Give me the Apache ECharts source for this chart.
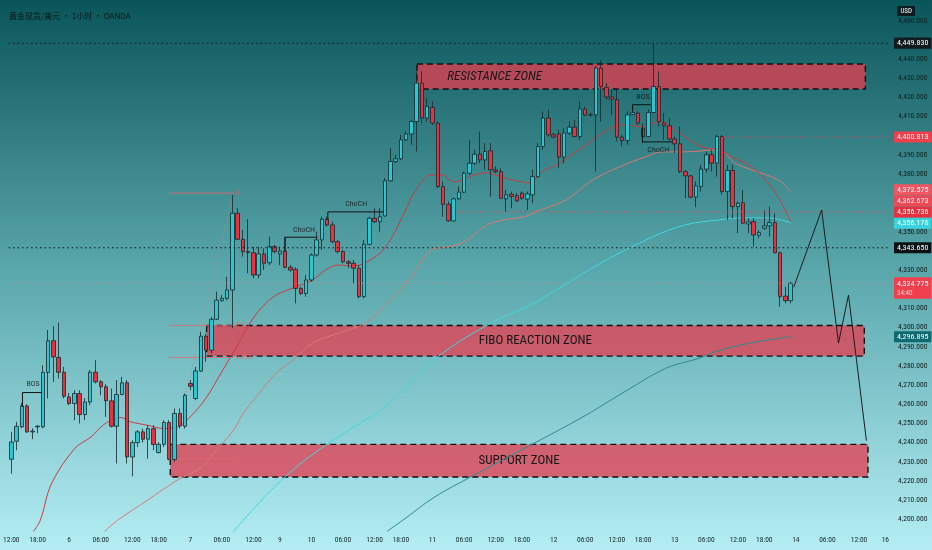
<!DOCTYPE html>
<html><head><meta charset="utf-8">
<script src="https://cdn.jsdelivr.net/npm/echarts@6/dist/echarts.min.js"></script>
<style>html,body{margin:0;padding:0;background:#5aa8ad}#c{width:932px;height:550px}</style>
</head><body><div id="c"></div>
<script>
// ---------- data ----------
const slotCount = 167;
const tickIdx  = [0,5,11,17,23,28,34,40,46,51,57,63,69,74,80,86,92,97,103,109,115,120,126,132,138,143,149,155,161,166];
const tickText = ['12:00','18:00','6','06:00','12:00','18:00','7','06:00','12:00','9','10','06:00','12:00','18:00','11','06:00','12:00','18:00','12','06:00','12:00','18:00','13','06:00','12:00','18:00','14','06:00','12:00','16'];

const opens = [4231.3,4240.7,4248.2,4259.1,4245.6,4248.2,4248.2,4276.6,4293.1,4284.4,4276.7,4263.8,4260.4,4265.6,4254.6,4261.2,4276.7,4271.7,4269.1,4261.8,
4248.5,4265.1,4271.2,4232.5,4240.0,4245.6,4241.8,4247.3,4234.8,4239.1,4250.5,4231.2,4255.2,4248.5,4270.8,4263.0,4277.3,4295.5,4288.2,4304.3,
4314.0,4315.2,4319.6,4359.6,4346.0,4339.6,4339.0,4327.4,4338.4,4333.8,4342.2,4338.4,4339.9,4331.4,4330.4,4320.4,4317.8,4324.8,4337.8,4345.7,
4356.5,4353.5,4344.8,4339.6,4334.3,4333.5,4330.9,4316.1,4343.4,4357.0,4355.2,4358.2,4376.5,4386.6,4388.0,4397.9,4400.9,4407.4,4427.5,4409.2,
4414.8,4406.6,4373.5,4364.3,4355.6,4367.1,4370.6,4380.5,4385.7,4390.4,4387.4,4392.2,4382.2,4381.3,4367.1,4369.5,4368.8,4370.1,4367.0,4369.2,
4378.7,4394.4,4409.2,4400.5,4401.0,4388.9,4401.4,4404.5,4399.6,4413.9,4410.8,4410.9,4435.3,4425.2,4420.2,4418.8,4399.3,4397.5,4411.1,4411.8,
4404.0,4399.6,4412.1,4425.7,4406.6,4405.2,4398.3,4395.8,4381.3,4379.1,4368.0,4373.5,4382.6,4390.1,4385.7,4399.6,4370.9,4381.9,4363.1,4365.1,
4354.0,4355.2,4348.1,4351.8,4353.0,4354.7,4339.0,4316.4,4314.0];
const closes = [4240.3,4248.5,4259.1,4245.6,4246.0,4248.6,4276.6,4293.1,4284.7,4276.7,4264.2,4260.4,4265.6,4254.6,4261.2,4276.7,4271.7,4269.1,4261.8,4248.5,
4265.1,4271.2,4232.5,4240.0,4245.6,4241.8,4247.3,4239.0,4239.1,4250.5,4231.3,4255.2,4248.7,4264.7,4269.4,4277.4,4295.5,4288.2,4304.3,4314.3,
4315.2,4319.6,4359.6,4346.0,4339.6,4339.1,4327.4,4338.4,4333.5,4342.2,4339.6,4339.9,4331.4,4330.0,4320.4,4317.8,4324.8,4337.8,4345.7,4356.5,
4353.5,4344.8,4339.6,4334.3,4333.5,4330.9,4316.1,4343.4,4357.0,4355.2,4357.8,4376.5,4386.6,4388.0,4397.9,4400.9,4407.4,4427.5,4409.2,4415.3,
4406.6,4373.5,4364.3,4355.6,4367.1,4370.6,4380.5,4385.7,4390.4,4387.4,4391.8,4382.2,4381.3,4367.4,4369.2,4368.3,4366.0,4367.4,4369.7,4378.7,
4394.4,4409.2,4400.5,4399.3,4388.9,4401.4,4404.5,4399.6,4413.9,4410.8,4411.0,4435.3,4425.7,4420.2,4419.1,4399.3,4397.5,4410.9,4412.1,4406.6,
4399.6,4412.1,4425.7,4407.4,4405.2,4398.3,4395.8,4381.3,4379.1,4368.0,4373.9,4382.6,4390.1,4385.7,4399.6,4370.9,4381.9,4363.1,4364.8,4354.4,
4355.1,4348.3,4349.5,4353.0,4354.7,4339.0,4316.1,4314.0,4323.1];
const lows = [4223.8,4236.0,4247.5,4245.0,4241.8,4244.9,4247.5,4263.0,4271.7,4273.4,4263.0,4259.5,4251.7,4250.0,4251.7,4259.5,4270.8,4264.7,4253.4,4247.9,
4229.1,4264.7,4229.1,4222.4,4237.7,4240.0,4231.7,4236.0,4234.3,4237.7,4230.8,4229.9,4247.3,4247.3,4267.3,4262.1,4276.9,4282.1,4286.5,4303.9,
4313.5,4314.3,4299.6,4345.7,4337.0,4328.3,4325.7,4325.7,4330.0,4332.6,4338.7,4332.6,4330.9,4329.1,4312.6,4316.9,4316.1,4323.9,4337.0,4340.5,
4352.6,4343.9,4338.7,4333.5,4330.9,4323.1,4315.2,4315.2,4343.0,4354.4,4350.0,4357.8,4376.1,4385.7,4387.4,4397.4,4395.3,4391.8,4406.6,4407.4,
4405.7,4372.7,4357.8,4355.2,4355.2,4366.6,4370.1,4379.6,4384.8,4385.7,4382.2,4368.3,4380.5,4367.1,4360.4,4362.2,4365.7,4366.6,4361.3,4364.8,
4378.0,4392.7,4399.6,4398.6,4383.1,4385.7,4400.5,4399.3,4397.9,4410.4,4410.0,4381.3,4407.4,4418.8,4410.9,4397.0,4394.4,4395.3,4410.8,4405.7,
4396.2,4399.3,4411.8,4404.8,4397.9,4397.5,4391.0,4380.5,4367.4,4367.4,4362.7,4370.9,4380.8,4381.3,4378.7,4369.2,4356.1,4357.0,4349.2,4354.0,
4349.2,4342.2,4346.6,4350.9,4347.4,4338.7,4310.8,4312.6,4312.6];
const highs = [4245.6,4250.8,4260.6,4260.0,4247.5,4249.1,4280.4,4298.7,4300.8,4302.5,4279.5,4265.9,4267.3,4267.3,4263.2,4277.8,4283.0,4272.6,4270.5,4268.2,
4272.6,4274.3,4272.6,4241.2,4246.5,4247.3,4249.1,4249.1,4240.3,4251.7,4251.7,4257.8,4257.8,4265.6,4272.6,4279.5,4297.8,4296.9,4305.6,4318.7,
4317.0,4326.5,4369.2,4362.2,4350.9,4356.5,4342.2,4342.2,4341.3,4347.4,4343.1,4342.2,4347.4,4332.6,4331.4,4321.3,4327.4,4338.7,4350.0,4357.8,
4357.8,4355.2,4345.7,4340.5,4335.2,4335.2,4332.6,4345.7,4357.8,4362.2,4362.2,4377.9,4393.6,4390.1,4400.5,4402.2,4408.3,4433.6,4433.6,4419.7,
4417.9,4407.4,4376.1,4365.7,4367.8,4373.5,4381.3,4397.9,4392.7,4402.2,4396.2,4396.2,4384.0,4383.1,4371.8,4370.9,4370.1,4370.9,4370.9,4382.2,
4396.2,4412.7,4413.6,4401.4,4403.1,4404.0,4407.4,4408.3,4417.9,4415.3,4412.0,4436.5,4439.3,4427.5,4424.0,4424.0,4400.5,4412.7,4415.3,4412.7,
4406.6,4413.6,4448.2,4433.6,4411.8,4409.2,4399.6,4404.8,4382.2,4379.6,4376.1,4384.8,4391.8,4392.7,4400.5,4400.5,4384.8,4384.8,4365.7,4371.8,
4357.0,4357.0,4350.9,4361.3,4363.1,4359.6,4339.6,4321.3,4323.9];

// moving averages read as [slot, price]
const ema20 = [[4.2,4193.7],[5.52,4199.5],[7.64,4218.6],[12.04,4236.9],[15.17,4243.0],[17.69,4249.6],[20.81,4253.1],[22.69,4250.8],[25.83,4249.1],[28.97,4247.3],
[31.85,4248.5],[34.29,4254.3],[37.11,4263.7],[39.93,4276.7],[42.19,4287.2],[45.95,4304.9],[49.72,4315.9],[53.48,4320.6],[57.24,4324.8],[59.68,4330.0],
[62.13,4332.6],[64.76,4332.1],[67.21,4333.7],[70.97,4341.5],[74.73,4360.3],[76.61,4370.7],[79.81,4379.6],[81.69,4379.6],[84.13,4376.0],[87.89,4379.6],
[90.34,4380.7],[92.97,4378.6],[96.74,4376.0],[98.61,4375.4],[100.5,4380.7],[104.26,4385.9],[110.46,4397.9],[114.22,4404.7],[116.1,4405.7],[119.87,4404.7],
[123.07,4407.3],[124.19,4406.8],[126.83,4401.5],[131.15,4394.2],[134.35,4392.7],[136.8,4389.0],[140.56,4383.8],[143.76,4375.4],[145.64,4368.1],[148.08,4355.1]];
const ema50 = [[17.74,4193.7],[20.19,4199.5],[25.83,4209.9],[31.47,4220.3],[35.8,4226.6],[38.99,4236.0],[42.19,4246.5],[44.07,4255.3],[47.08,4265.8],[50.28,4276.2],
[53.48,4283.0],[57.24,4291.9],[62.13,4297.1],[67.21,4302.3],[70.97,4311.7],[75.29,4323.7],[79.81,4340.5],[82.82,4342.0],[86.01,4344.6],[90.34,4353.5],
[93.54,4356.1],[97.3,4357.7],[100.5,4361.3],[105.39,4366.6],[110.46,4377.0],[115.54,4383.8],[120.43,4389.0],[123.63,4391.6],[127.96,4391.6],[134.35,4392.7],
[137.36,4385.9],[140.56,4382.2],[145.64,4377.0],[148.08,4370.7]];
const ema100 = [[42.19,4193.7],[44.07,4199.5],[48.4,4212.5],[54.04,4227.1],[60.25,4239.7],[67.21,4251.7],[70.97,4258.5],[80.94,4284.6],[91.09,4302.3],[98.61,4311.7],
[103.5,4319.6],[112.34,4334.2],[121.75,4347.2],[127.96,4353.5],[134.35,4356.1],[139.24,4357.2],[143.76,4357.2],[148.08,4354.6]];
const ema200 = [[71.34,4193.7],[74.35,4199.5],[80.37,4211.6],[87.27,4222.1],[99.18,4239.5],[108.58,4253.4],[114.85,4263.8],[124.25,4278.7],[130.53,4283.9],[133.65,4287.3],
[139.93,4291.7],[148.08,4295.2]];

// zones [x1, top, x2, bottom]
const zoneNames = ['RESISTANCE ZONE','FIBO REACTION ZONE','SUPPORT ZONE'];
const zoneBox = [[77.05,4437.4,162.2,4424.4],[37.1,4301.1,162.0,4285.1],[30.2,4239.1,162.7,4222.1]];

// horizontal levels [price, fromSlot]
const levelBlack = [[4448.2,-0.5],[4341.6,-0.5]];
const levelRed = [[4399.3,135.2],[4360.4,84.7]];
const levelLast = [4323.1,-0.5];

// right scale value tags: text, shown at price, background
const tagText = ['4,449.830','4,400.813','4,372.575','4,362.673','4,356.736','4,356.176','4,343.650','4,296.895'];
const tagAt   = [4448.2,4399.3,4371.8,4366.0,4360.1,4354.4,4341.6,4295.2];
const tagBg   = ['#111a1d','#f0404d','#f25462','#f04855','#e8303e','#3ad3dd','#0c1214','#0f6a70'];
const lastTag = ['4,324.775','34:40'];
const lastTagAt = 4320.6;

// fibonacci
const fibLevels = [0,0.5,0.618,1];
const fibPrice = [4370.1,4301.1,4284.4,4231.5];
const fibFrom = 29.97, fibTo = 42.2;
const fibDiag = [[30.2,4231.3],[42.2,4370.2]];

// projection path
const projection = [[148.6,4321.1],[153.9,4361.3],[157.1,4291.9],[159.0,4317.0],[162.4,4241.0]];

// structure notes
const noteText = ['BOS','ChoCH','ChoCH','BOS','ChoCH'];
const noteAt = [[4.14,4270.5],[55.6,4351.05],[65.5,4364.2],[119.96,4420.2],[122.88,4392.8]];
const noteLine = [
 [[2.13,4258.6],[2.13,4266.1],[5.76,4266.1]],
 [[52.03,4339.6],[52.03,4347.1],[58.12,4347.1]],
 [[60.12,4356.1],[60.12,4360.3],[70.65,4360.3]],
 [[117.99,4412.7],[117.99,4416.2],[121.43,4416.2]],
 [[119.87,4404.0],[119.87,4396.8],[125.5,4396.8]]
];

// ---------- chart ----------
const NARROW = "'Liberation Sans Narrow','Roboto Condensed',Roboto,sans-serif";
const categories = Array.from({length: slotCount}, (_, i) => {
  const k = tickIdx.indexOf(i); return k >= 0 ? tickText[k] : '';
});
const candles = opens.map((o, i) => [o, closes[i], lows[i], highs[i]]);
const XMAX = slotCount - 0.5;

const series = [];
function ma(data, color, z) {
  series.push({type:'line', xAxisIndex:1, data, smooth:0.35, showSymbol:false, silent:true,
    lineStyle:{color, width:1}, z});
}
ma(ema200, '#2a8d93', 2);
ma(ema100, '#3ed9e3', 2);
ma(ema50, '#d97b70', 2);
ma(ema20, '#cc3b3d', 2);

// zones
series.push({type:'line', xAxisIndex:1, data:[], z:3, silent:true,
  markArea:{silent:true,
    itemStyle:{color:'rgba(226,64,82,0.78)', borderColor:'#111', borderWidth:1.4, borderType:[6,4]},
    label:{show:true, color:'#161616', fontSize:13, fontFamily:NARROW},
    data: zoneBox.map((b, k) => [
      {coord:[b[0], b[1]], name:zoneNames[k],
       label: k === 0 ? {position:'insideLeft', distance:31, fontStyle:'italic'} : {position:'inside'}},
      {coord:[b[2], b[3]]}
    ])
  }});

// fib lines and level numbers (over the zones)
fibPrice.forEach((p, k) => {
  series.push({type:'line', xAxisIndex:1, data:[[fibFrom,p],[fibTo,p]], showSymbol:false, silent:true,
    lineStyle:{color:'#e8676b', width:1, opacity:0.8}, z:3.5});
});
series.push({type:'line', xAxisIndex:1, data:fibDiag, showSymbol:false, silent:true,
  lineStyle:{color:'#c98585', width:1, type:[1,2]}, z:3.5});
series.push({type:'scatter', xAxisIndex:1, symbolSize:1, itemStyle:{color:'rgba(0,0,0,0)'}, silent:true, z:3.5,
  data: fibLevels.map((f, k) => ({value:[fibTo, fibPrice[k]], name:String(f)})),
  label:{show:true, position:'right', distance:2, formatter:'{b}', color:'#e8676b', fontSize:7, fontFamily:NARROW}});

// candles
series.push({type:'candlestick', xAxisIndex:0, data:candles, barWidth:4, z:4, silent:true,
  itemStyle:{color:'#2cc6d0', color0:'#e8323e', borderColor:'#17272b', borderColor0:'#17272b', borderWidth:0.8}});

// level lines
levelBlack.forEach(l => series.push({type:'line', xAxisIndex:1, data:[[l[1],l[0]],[XMAX,l[0]]], showSymbol:false, silent:true,
  lineStyle:{color:'#0b1416', width:1, type:[1.5,3]}, z:5}));
levelRed.forEach(l => series.push({type:'line', xAxisIndex:1, data:[[l[1],l[0]],[XMAX,l[0]]], showSymbol:false, silent:true,
  lineStyle:{color:'#e8404c', width:1, type:[1.5,3]}, z:5}));
series.push({type:'line', xAxisIndex:1, data:[[levelLast[1],levelLast[0]],[XMAX,levelLast[0]]], showSymbol:false, silent:true,
  lineStyle:{color:'#e58a8a', width:1, type:[1,2.5], opacity:0.8}, z:5});

// projection
series.push({type:'line', xAxisIndex:1, data:projection, showSymbol:false, silent:true,
  lineStyle:{color:'#1a1d1e', width:1}, z:6});

// structure brackets and notes
noteLine.forEach(d => series.push({type:'line', xAxisIndex:1, data:d, showSymbol:false, silent:true,
  lineStyle:{color:'#121212', width:1}, z:6}));
series.push({type:'scatter', xAxisIndex:1, symbolSize:1, itemStyle:{color:'rgba(0,0,0,0)'}, silent:true, z:6,
  data: noteText.map((t, k) => ({value:noteAt[k], name:t})),
  label:{show:true, position:'inside', formatter:'{b}', color:'#101010', fontSize:8, fontFamily:NARROW}});

// right scale tags
const tagData = tagText.map((t, k) => ({yAxis:tagAt[k],
  label:{formatter:t, backgroundColor:tagBg[k]}}));
tagData.push({yAxis:lastTagAt, label:{formatter:'{a|' + lastTag[0] + '}\n{b|' + lastTag[1] + '}', backgroundColor:'#f0404d',
  rich:{a:{color:'#fff', fontSize:8, fontFamily:NARROW, lineHeight:9.5}, b:{color:'#ffd0d4', fontSize:7, fontFamily:NARROW, lineHeight:9}}}});
series.push({type:'line', xAxisIndex:1, data:[], z:7, silent:true,
  markLine:{silent:true, symbol:['none','none'], animation:false,
    lineStyle:{color:'rgba(0,0,0,0)', width:1, type:'solid'},
    label:{show:true, position:'end', distance:6, color:'#fff', fontSize:8, fontFamily:NARROW, padding:[2,3,1,3]},
    data: tagData}});

const option = {
  animation:false,
  backgroundColor:{type:'linear', x:0, y:0, x2:0, y2:1,
    colorStops:[{offset:0, color:'#0a555a'},{offset:0.5, color:'#5ba8ad'},{offset:1, color:'#b4eef4'}]},
  title:[
    {text:'黄金现货/美元 · 1小时 · OANDA', left:4, top:7,
     textStyle:{fontSize:8, fontWeight:'normal', color:'#0b1517', fontFamily:"'Noto Sans CJK SC',sans-serif"}},
    {text:'USD', right:17, top:6, backgroundColor:'#0e1a1d', padding:[2,3,1,3],
     textStyle:{fontSize:7, fontWeight:'normal', color:'#fff', fontFamily:NARROW}}
  ],
  grid:{left:0, right:44, top:1.52, bottom:11.5},
  xAxis:[
    {type:'category', data:categories, boundaryGap:true,
     axisLine:{show:false}, axisTick:{show:false}, splitLine:{show:false},
     axisLabel:{interval:0, margin:-2, fontSize:7.5, color:'#15272a', fontFamily:NARROW}},
    {type:'value', min:-0.5, max:XMAX, show:false}
  ],
  yAxis:{type:'value', position:'right', min:4190, max:4470, interval:10, scale:true,
    axisLine:{show:false}, axisTick:{show:false}, splitLine:{show:false},
    axisLabel:{margin:10, fontSize:7.5, color:'#121c1f', fontFamily:NARROW, showMinLabel:false, showMaxLabel:false,
      formatter:v => v.toLocaleString('en-US',{minimumFractionDigits:3, maximumFractionDigits:3})}},
  series
};
const chart = echarts.init(document.getElementById('c'));
chart.setOption(option);
</script>
</body></html>
